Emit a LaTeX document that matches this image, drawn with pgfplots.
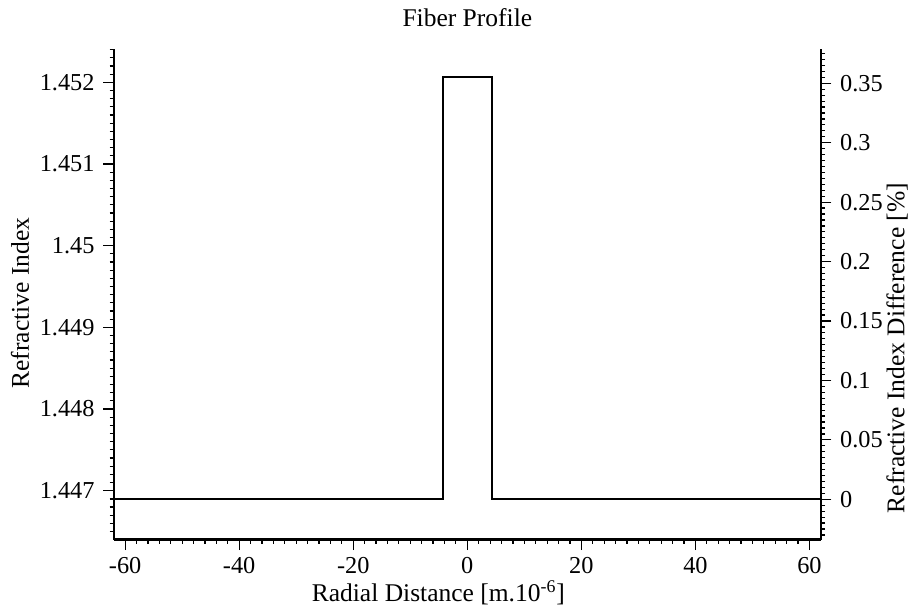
\documentclass[border=0pt]{standalone}
\usepackage{fontspec}
\setmainfont{Liberation Serif}
\usepackage{pgfplots}
\pgfplotsset{compat=1.18}

\begin{document}
\fontsize{12.8}{15}\selectfont
\begin{tikzpicture}
\useasboundingbox (-57bp,-33.75bp) rectangle (400.5bp,269.75bp);
\pgfplotsset{
  every axis/.append style={
    scale only axis, width=353.35bp, height=245.25bp,
    at={(0,0)}, anchor=south west,
    tick align=outside,
    major tick length=5.3bp, minor tick length=2.2bp,
    tick style={black, line width=0.6bp},
    axis line style={line width=1.1bp, -},
    tick label style={font=\fontsize{12.2}{14}\selectfont},
    /pgf/number format/assume math mode=true,
    label style={font=\fontsize{12.8}{15}\selectfont},
  }
}
% refractive index (left axis) and radial distance
\begin{axis}[
  name=main,
  xmin=-61.95, xmax=61.97,
  ymin=1.446403, ymax=1.452408,
  axis x line*=bottom, axis y line*=left,
  xtick={-60,-40,-20,0,20,40,60},
  xticklabels={-60,-40,-20,0,20,40,60},
  xticklabel style={yshift=1bp},
  minor xtick={-60,-58,...,60},
  ytick={1.447,1.448,1.449,1.45,1.451,1.452},
  yticklabels={1.447,1.448,1.449,1.45,1.451,1.452},
  minor ytick={1.4465,1.4466,1.4467,1.4468,1.4469,1.4471,1.4472,1.4473,1.4474,1.4475,1.4476,1.4477,1.4478,1.4479,
               1.4481,1.4482,1.4483,1.4484,1.4485,1.4486,1.4487,1.4488,1.4489,
               1.4491,1.4492,1.4493,1.4494,1.4495,1.4496,1.4497,1.4498,1.4499,
               1.4501,1.4502,1.4503,1.4504,1.4505,1.4506,1.4507,1.4508,1.4509,
               1.4511,1.4512,1.4513,1.4514,1.4515,1.4516,1.4517,1.4518,1.4519,
               1.4521,1.4522,1.4523,1.4524},
  title={Fiber Profile},
  title style={at={(axis description cs:0.5,1.039)}, anchor=center, font=\fontsize{12.8}{15}\selectfont},
  xlabel={Radial Distance [m.10\textsuperscript{-6}]},
  xlabel style={at={(axis description cs:0.459,-0.108)}, anchor=center},
  ylabel={Refractive Index},
  ylabel style={at={(axis description cs:-0.133,0.482)}, anchor=center},
]
\addplot[black, line width=0.9bp] coordinates {
  (-61.95,1.446895) (-4.3,1.446895) (-4.3,1.452061)
  (4.3,1.452061) (4.3,1.446895) (61.97,1.446895)
};
\end{axis}
% relative index difference (right axis)
\begin{axis}[
  xmin=-61.95, xmax=61.97,
  ymin=-0.03382, ymax=0.37885,
  axis x line=none, axis y line*=right,
  ytick={0,0.05,0.1,0.15,0.2,0.25,0.3,0.35},
  yticklabels={0,0.05,0.1,0.15,0.2,0.25,0.3,0.35},
  minor ytick={-0.03,-0.025,-0.02,-0.015,-0.01,-0.005,0.005,0.01,0.015,0.02,0.025,0.03,0.035,0.04,0.045,
               0.055,0.06,0.065,0.07,0.075,0.08,0.085,0.09,0.095,0.105,0.11,0.115,0.12,0.125,0.13,0.135,0.14,0.145,
               0.155,0.16,0.165,0.17,0.175,0.18,0.185,0.19,0.195,0.205,0.21,0.215,0.22,0.225,0.23,0.235,0.24,0.245,
               0.255,0.26,0.265,0.27,0.275,0.28,0.285,0.29,0.295,0.305,0.31,0.315,0.32,0.325,0.33,0.335,0.34,0.345,
               0.355,0.36,0.365,0.37,0.375},
  ylabel={Refractive Index Difference [\%]},
  ylabel style={at={(axis description cs:1.108,0.39)}, anchor=center},
]
\end{axis}
\end{tikzpicture}
\end{document}
